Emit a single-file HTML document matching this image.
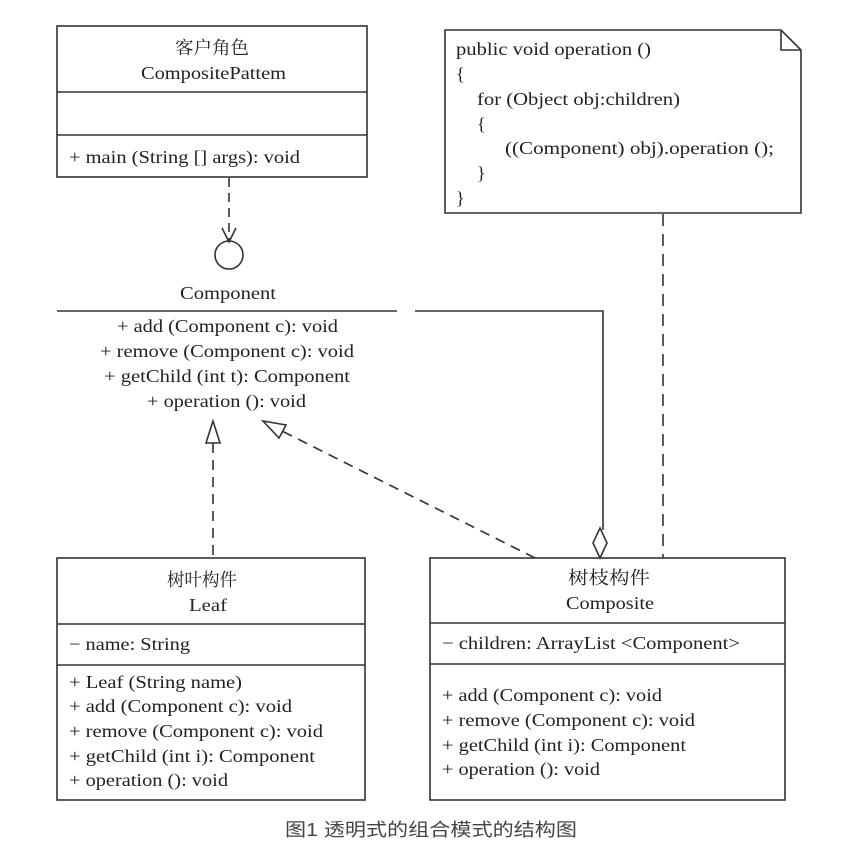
<!DOCTYPE html>
<html><head><meta charset="utf-8"><style>
body{margin:0;background:#fff;}
svg text{font-family:"Liberation Serif","Noto Serif CJK SC",serif;font-size:18px;fill:#222;}
</style></head><body>
<svg width="865" height="851" xmlns="http://www.w3.org/2000/svg">
<g stroke="#333" stroke-width="1.6" fill="none">
<rect x="57" y="26" width="310" height="151"/>
<line x1="57" y1="92" x2="367" y2="92"/>
<line x1="57" y1="135" x2="367" y2="135"/>
<line x1="229" y1="178" x2="229" y2="240" stroke-dasharray="9,6"/>
<polyline points="222,228 229,242 236,228"/>
<circle cx="229" cy="255" r="14"/>
<line x1="57" y1="311" x2="397" y2="311"/>
<polyline points="415,311 603,311 603,530"/>
<polygon points="600,528 607,543 600,558 593,543" fill="#fff"/>
<path d="M445,30 H781 L801,50 V213 H445 Z"/>
<polyline points="781,30 781,50 801,50"/>
<line x1="663" y1="214" x2="663" y2="558" stroke-dasharray="12,8"/>
<rect x="57" y="558" width="308" height="242"/>
<line x1="57" y1="624" x2="365" y2="624"/>
<line x1="57" y1="665" x2="365" y2="665"/>
<rect x="430" y="558" width="355" height="242"/>
<line x1="430" y1="623" x2="785" y2="623"/>
<line x1="430" y1="664" x2="785" y2="664"/>
<line x1="213" y1="443" x2="213" y2="558" stroke-dasharray="10,7"/>
<polygon points="213,421 206,443 220,443" fill="#fff"/>
<line x1="535" y1="558" x2="280" y2="430" stroke-dasharray="10,7"/>
<polygon points="263,421 286,425 279,438" fill="#fff"/>
</g>
<g lengthAdjust="spacingAndGlyphs">
<text x="175" y="54" textLength="74" lengthAdjust="spacingAndGlyphs">客户角色</text>
<text x="141" y="79" textLength="145" lengthAdjust="spacingAndGlyphs">CompositePattem</text>
<text x="69" y="163" textLength="231" lengthAdjust="spacingAndGlyphs">+ main (String [] args): void</text>
<text x="180" y="299" textLength="96" lengthAdjust="spacingAndGlyphs">Component</text>
<text x="117" y="332" textLength="221" lengthAdjust="spacingAndGlyphs">+ add (Component c): void</text>
<text x="100" y="357" textLength="254" lengthAdjust="spacingAndGlyphs">+ remove (Component c): void</text>
<text x="104" y="382" textLength="246" lengthAdjust="spacingAndGlyphs">+ getChild (int t): Component</text>
<text x="147" y="407" textLength="159" lengthAdjust="spacingAndGlyphs">+ operation (): void</text>
<text x="456" y="55" textLength="195" lengthAdjust="spacingAndGlyphs">public void operation ()</text>
<text x="456" y="80">{</text>
<text x="477" y="105" textLength="203" lengthAdjust="spacingAndGlyphs">for (Object obj:children)</text>
<text x="477" y="130">{</text>
<text x="505" y="154" textLength="269" lengthAdjust="spacingAndGlyphs">((Component) obj).operation ();</text>
<text x="477" y="179">}</text>
<text x="456" y="204">}</text>
<text x="167" y="586" textLength="70" lengthAdjust="spacingAndGlyphs">树叶构件</text>
<text x="189" y="611" textLength="38" lengthAdjust="spacingAndGlyphs">Leaf</text>
<text x="69" y="650" textLength="121" lengthAdjust="spacingAndGlyphs">− name: String</text>
<text x="69" y="688" textLength="173" lengthAdjust="spacingAndGlyphs">+ Leaf (String name)</text>
<text x="69" y="712" textLength="223" lengthAdjust="spacingAndGlyphs">+ add (Component c): void</text>
<text x="69" y="737" textLength="254" lengthAdjust="spacingAndGlyphs">+ remove (Component c): void</text>
<text x="69" y="762" textLength="246" lengthAdjust="spacingAndGlyphs">+ getChild (int i): Component</text>
<text x="69" y="786" textLength="159" lengthAdjust="spacingAndGlyphs">+ operation (): void</text>
<text x="568" y="584" textLength="82" lengthAdjust="spacingAndGlyphs">树枝构件</text>
<text x="566" y="609" textLength="88" lengthAdjust="spacingAndGlyphs">Composite</text>
<text x="442" y="649" textLength="298" lengthAdjust="spacingAndGlyphs">− children: ArrayList &lt;Component&gt;</text>
<text x="442" y="701" textLength="220" lengthAdjust="spacingAndGlyphs">+ add (Component c): void</text>
<text x="442" y="726" textLength="253" lengthAdjust="spacingAndGlyphs">+ remove (Component c): void</text>
<text x="442" y="751" textLength="244" lengthAdjust="spacingAndGlyphs">+ getChild (int i): Component</text>
<text x="442" y="775" textLength="158" lengthAdjust="spacingAndGlyphs">+ operation (): void</text>
</g>
<text x="285" y="836" textLength="292" lengthAdjust="spacingAndGlyphs" style="font-family:'Liberation Sans','Noto Sans CJK SC',sans-serif;font-size:18px;fill:#444">图1 透明式的组合模式的结构图</text>
</svg>
</body></html>
